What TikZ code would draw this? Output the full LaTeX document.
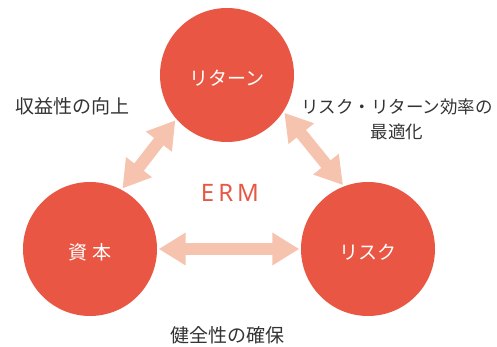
\documentclass[tikz,border=0pt]{standalone}
\usepackage{fontspec}
\setmainfont{Noto Sans CJK JP}
\newfontfamily\latinfont{Noto Sans}
\usetikzlibrary{arrows.meta}
\definecolor{circred}{HTML}{E95744}
\definecolor{arrowpink}{HTML}{F6C3AE}
\definecolor{labelgray}{HTML}{333333}
\begin{document}
\begin{tikzpicture}[x=1pt,y=-1pt,
  circ/.style={circle,fill=circred,minimum size=134pt,inner sep=0pt,text=white,text height=21pt,text depth=0pt,font=\fontsize{19}{19}\selectfont},
  dbl/.style={draw=arrowpink,line width=12pt,{Triangle[width=31pt,length=27pt,fill=arrowpink]}-{Triangle[width=31pt,length=27pt,fill=arrowpink]},shorten <=1.5pt,shorten >=1.5pt},
  lbl/.style={text=labelgray,font=\fontsize{19}{25}\selectfont,align=center,inner sep=0pt}]
\useasboundingbox (0,0) rectangle (497,347);
\node[circ] (ret) at (227,75) {リターン};
\node[circ] (cap) at (90,249) {資 本};
\node[circ] (risk) at (368,249) {リスク};
\draw[dbl] (ret.221) -- (cap.62.7);
\draw[dbl] (ret.327.7) -- (risk.111.2);
\draw[dbl] (cap.east) -- (risk.west);
\node[text=circred,font=\latinfont\fontsize{24}{24}\selectfont,inner sep=0pt] (erm) at (230,193) {E\hspace{4pt}R\hspace{4pt}M};
\node[lbl] (l1) at (72,106) {収益性の向上};
\node[lbl,font=\fontsize{17.5}{25}\selectfont] (l2) at (397,119) {リスク・リターン効率の\\最適化};
\node[lbl] (l3) at (227,335) {健全性の確保};
\end{tikzpicture}
\end{document}
